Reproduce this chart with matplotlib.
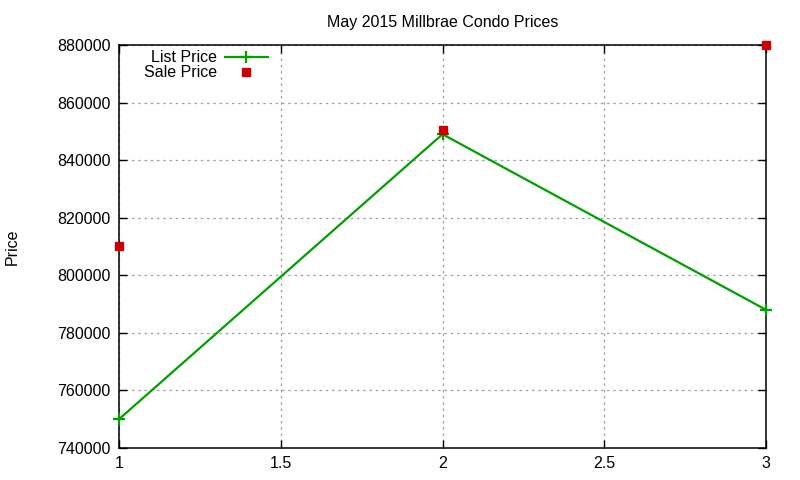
import matplotlib
matplotlib.use("Agg")
import matplotlib.pyplot as plt
from matplotlib.ticker import FuncFormatter

plt.rcParams["font.family"] = ["Liberation Sans", "DejaVu Sans"]

# data
x_values = [1, 2, 3]
list_price = [750000, 849000, 788000]
sale_price = [810000, 850500, 880000]

fig = plt.figure(figsize=(8, 4.8), dpi=100)
ax = fig.add_axes([0.14875, 0.0667, 0.80875, 0.8396])

ax.plot(x_values, list_price, color="#00a000", lw=1.6, marker="+",
        markersize=8, markeredgewidth=1.6, label="List Price", clip_on=False, zorder=3)
ax.plot(x_values, sale_price, ls="none", color="#cc0000", marker="s",
        markersize=5.5, label="Sale Price", clip_on=False, zorder=4)

ax.set_xlim(1, 3)
ax.set_ylim(740000, 880000)
ax.set_xticks([1, 1.5, 2, 2.5, 3])
ax.set_yticks(range(740000, 880001, 20000))
ax.xaxis.set_major_formatter(FuncFormatter(lambda v, p: f"{v:g}"))
ax.yaxis.set_major_formatter(FuncFormatter(lambda v, p: f"{int(v)}"))

ax.tick_params(direction="in", length=6, width=1, top=True, right=True,
               labelsize=11.5, pad=6, colors="black")
ax.grid(True, color="#a0a0a0", linestyle=(0, (2, 3)), linewidth=0.9)
for s in ax.spines.values():
    s.set_linewidth(1.1)

ax.set_title("May 2015 Millbrae Condo Prices", fontsize=11.5, pad=13)
ax.set_ylabel("Price", fontsize=11.5)
ax.yaxis.set_label_coords(-0.153, 0.5)

ax.legend(loc="upper right", bbox_to_anchor=(279 / 800, 1 - 39 / 480),
          bbox_transform=fig.transFigure, markerfirst=False, frameon=False,
          fontsize=11.5, handlelength=2.7, handletextpad=0.5, labelspacing=0.0,
          borderpad=0.2, numpoints=1)

fig.savefig("out.png", dpi=100)
plt.close(fig)
